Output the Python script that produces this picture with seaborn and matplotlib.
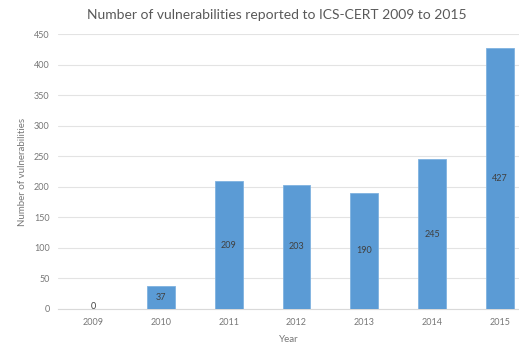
import matplotlib
matplotlib.use("Agg")
import matplotlib.pyplot as plt
import seaborn as sns
import pandas as pd

years = ["2009", "2010", "2011", "2012", "2013", "2014", "2015"]
counts = [0, 37, 209, 203, 190, 245, 427]
yticks = [0, 50, 100, 150, 200, 250, 300, 350, 400, 450]

sns.set_theme(style="white")
plt.rcParams['font.family'] = ['Lato', 'DejaVu Sans']

df = pd.DataFrame({"Year": years, "Count": counts})

fig = plt.figure(figsize=(5.19, 3.44), dpi=100)
ax = fig.add_axes([58/519, 35/344, (519-58)/519, (309-34)/344])

sns.barplot(data=df, x="Year", y="Count", color="#5B9BD5", saturation=1,
            width=0.41, ax=ax, edgecolor="#7FB2E0", linewidth=0.6, zorder=3)

ax.set_ylim(0, 450)
ax.set_xlim(-0.516, 6.28)
ax.set_yticks(yticks)
ax.yaxis.grid(True, color="#E3E3E3", linewidth=0.8, zorder=0)
ax.set_axisbelow(True)
for s in ["top", "right", "left"]:
    ax.spines[s].set_visible(False)
ax.spines["bottom"].set_color("#D9D9D9")
ax.spines["bottom"].set_linewidth(0.8)
ax.tick_params(axis="both", length=0, labelsize=6.5, labelcolor="#777777")
ax.tick_params(axis="x", pad=6.5)
ax.tick_params(axis="y", pad=6)

ax.set_xlabel("Year", fontsize=7, color="#777777", labelpad=6)
ax.set_ylabel("Number of vulnerabilities", fontsize=7, color="#777777", labelpad=5)

for i, v in enumerate(counts):
    y = v / 2 if v > 0 else 4
    ax.text(i, y, str(v), ha="center", va="center", fontsize=6.5, color="#404040", zorder=4)

fig.text(0.5 + 17/519, 1 - 15/344, "Number of vulnerabilities reported to ICS-CERT 2009 to 2015",
         ha="center", va="center", fontsize=10, color="#595959")

fig.savefig("out.png", dpi=100)
